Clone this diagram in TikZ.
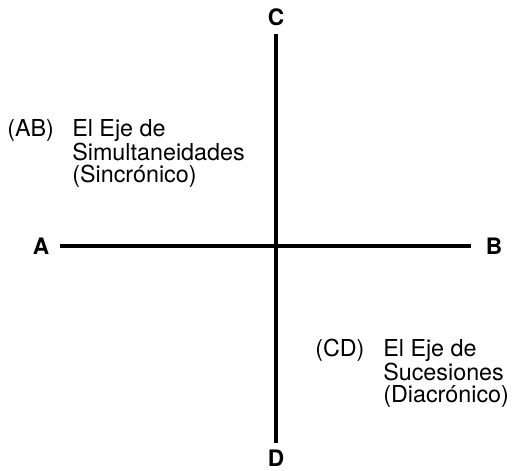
\documentclass[tikz,border=0pt]{standalone}
\usepackage{fontspec}
\setmainfont{TeX Gyre Heros}
\usepackage{tikz}

\begin{document}
\begin{tikzpicture}[x=0.75pt, y=-0.75pt,
        lbl/.style={inner sep=0pt, font=\fontsize{17.5}{16.5}\selectfont},
        pole/.style={lbl, font=\fontsize{17}{17}\selectfont\bfseries},
        txt/.style={lbl, align=left, anchor=north west},
        axis/.style={line width=3.6pt},
        axisAB/.style={line width=2.4pt}]
        \useasboundingbox (0, 0) rectangle (514, 471);

        \node[pole] (A) at (41, 246) {A};
        \node[pole] (B) at (494, 246) {B};
        \node[pole] (C) at (276, 17) {C};
        \node[pole] (D) at (276, 458) {D};

        \draw[-, axisAB, shorten <=8pt, shorten >=11pt] (A) to (B);
        \draw[-, axis, shorten <=6pt, shorten >=5pt] (C) to (D);

        \node[txt] (AB) at (7, 119) {(AB)};
        \node[txt] (sinc) at (72, 119) {El Eje de\\Simultaneidades\\(Sincrónico)};

        \node[txt] (CD) at (315, 339) {(CD)};
        \node[txt] (diac) at (383, 339) {El Eje de\\Sucesiones\\(Diacrónico)};
      \end{tikzpicture}
\end{document}
